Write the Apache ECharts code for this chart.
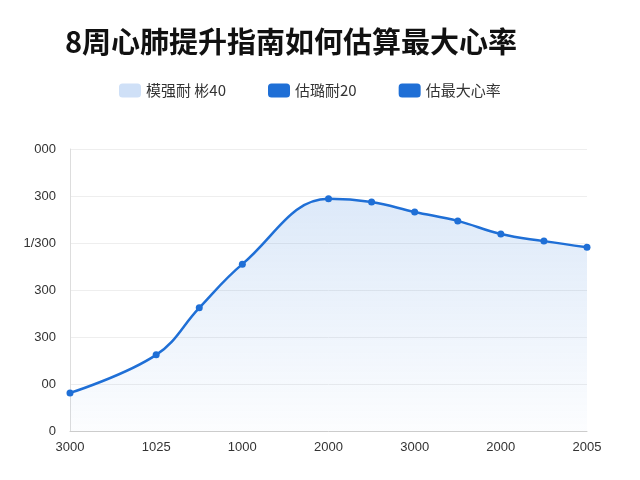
<!DOCTYPE html><html><head><meta charset="utf-8"><script src="https://cdn.jsdelivr.net/npm/echarts@6/dist/echarts.min.js"></script></head><body style="margin:0"><div id="c" style="width:640px;height:480px"></div><script>
const categories=['3000','','1025','','1000','','2000','','3000','','2000','','2005'];
const yLabels=['0','00','300','300','1/300','300','000'];
const values=[0.81,null,1.62,2.62,3.55,null,4.94,4.87,4.66,4.47,4.19,4.04,3.91];
const legendNames=['模强耐 彬40','估璐耐20','估最大心率'];
const c=echarts.init(document.getElementById('c'));
const blue='#1f6fd6';
c.setOption({
title:{text:'8周心肺提升指南如何估算最大心率',left:60,top:22,textStyle:{fontSize:29,fontWeight:'bold',color:'#111',fontFamily:'Noto Sans CJK SC'}},
legend:{top:78,left:114,itemWidth:22,itemHeight:14,itemGap:42,icon:'roundRect',textStyle:{fontSize:15,color:'#333',fontFamily:'Noto Sans CJK SC'},data:legendNames},
grid:{left:70,right:53,top:149,bottom:49},
xAxis:{type:'category',boundaryGap:false,data:categories,axisTick:{show:false},axisLine:{lineStyle:{color:'#ccc'}},axisLabel:{interval:1,color:'#333',fontSize:13,margin:10}},
yAxis:{type:'value',min:0,max:6,interval:1,axisLine:{show:true,lineStyle:{color:'#ddd'}},splitLine:{lineStyle:{color:'#eee'}},axisLabel:{color:'#333',fontSize:13,margin:14,formatter:v=>yLabels[v]}},
series:[
{name:legendNames[0],type:'line',data:[],itemStyle:{color:'#cfe0f7'}},
{name:legendNames[1],type:'line',data:[],itemStyle:{color:blue}},
{name:legendNames[2],type:'line',data:values,connectNulls:true,smooth:0.4,symbol:'circle',symbolSize:7,itemStyle:{color:blue},lineStyle:{width:2.5,color:blue},
areaStyle:{color:new echarts.graphic.LinearGradient(0,0,0,1,[{offset:0,color:'rgba(31,111,214,0.22)'},{offset:1,color:'rgba(31,111,214,0.02)'}])}}
]});
</script></body></html>
